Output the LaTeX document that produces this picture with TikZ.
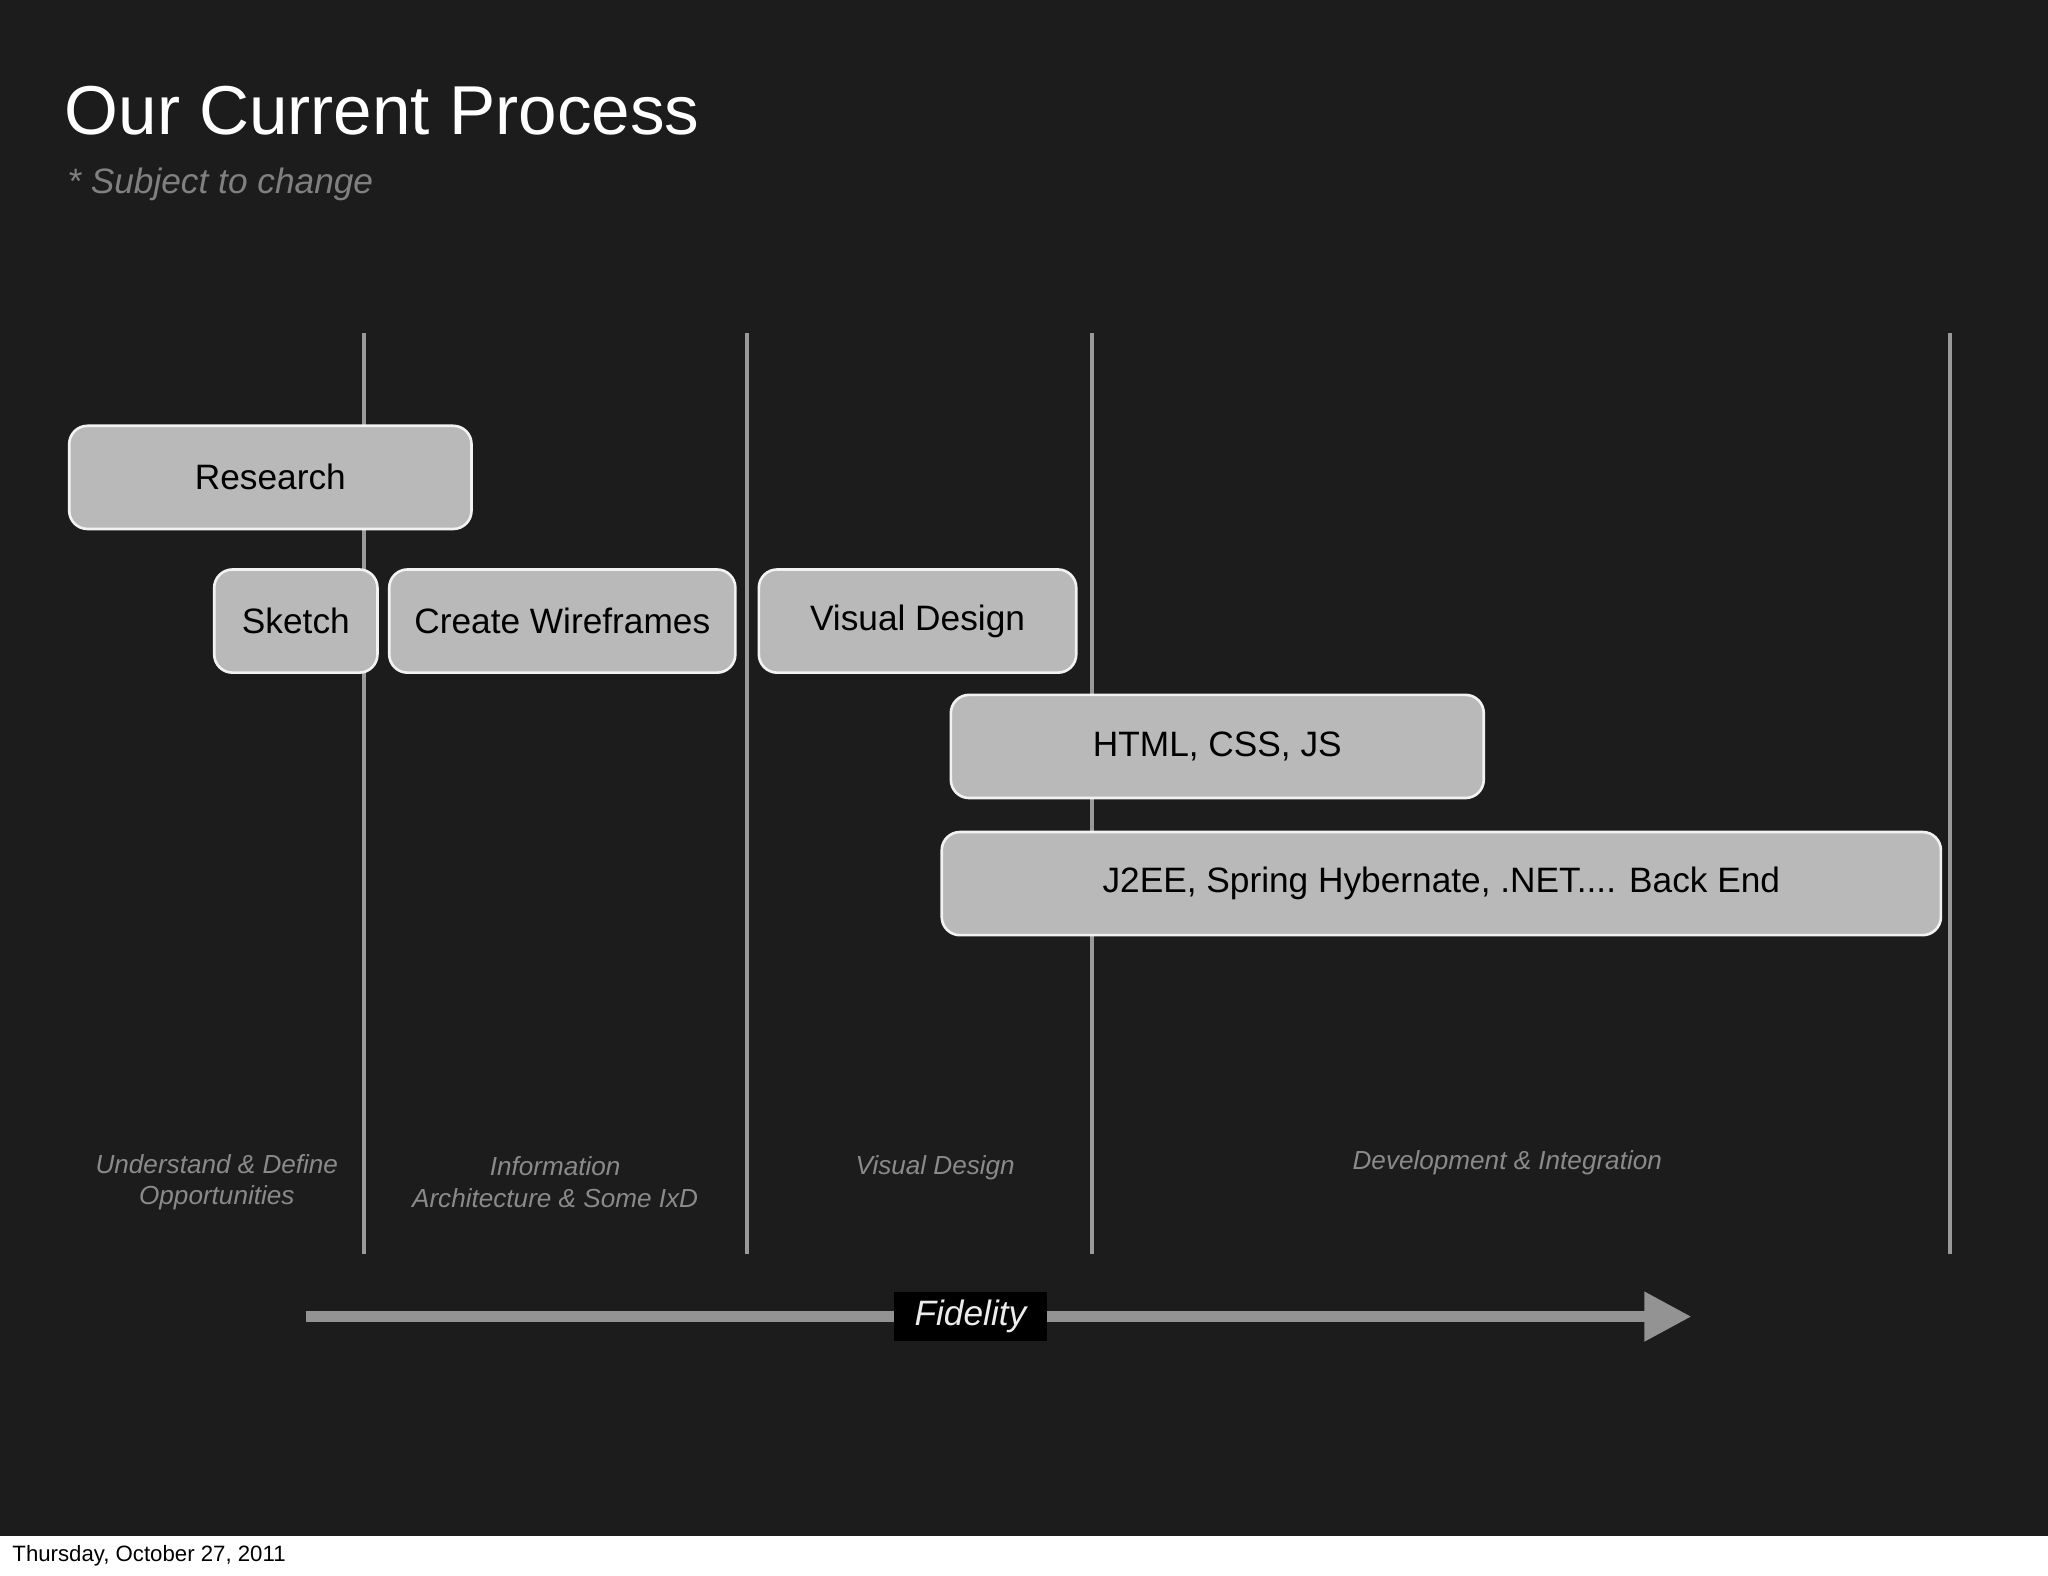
\documentclass[tikz,border=0pt]{standalone}
\usepackage{fontspec}
\setmainfont{Liberation Sans}
\usetikzlibrary{arrows.meta}
\definecolor{bg}{HTML}{1C1C1C}
\definecolor{boxc}{HTML}{B9B9B9}
\definecolor{lab}{HTML}{8A8A8A}
\tikzset{
 task/.style={draw=white!90!gray,line width=2pt,fill=boxc,rounded corners=14pt,anchor=north west,inner sep=0pt,font=\fontsize{27}{30}\selectfont,text=black},
 phase/.style={text=lab,font=\itshape\fontsize{20}{24}\selectfont,align=center},
 divider/.style={draw=gray!80,line width=3pt}
}
\begin{document}
\begin{tikzpicture}[x=1pt,y=-1pt]
\useasboundingbox (0,0) rectangle (1568,1206);
\fill[white] (0,0) rectangle (1568,1206);
\fill[bg] (0,0) rectangle (1568,1176);
\node[anchor=west,text=white,font=\fontsize{53}{60}\selectfont] (title) at (46,85) {Our Current Process};
\node[anchor=west,text=gray,font=\itshape\fontsize{27}{30}\selectfont] (sub) at (48,141) {* Subject to change};
\foreach \x/\n in {279/d1,572/d2,836/d3,1493/d4}{
 \coordinate (\n t) at (\x,255); \coordinate (\n b) at (\x,960);
 \draw[divider] (\n t) -- (\n b);}
\node[task,minimum width=308pt,minimum height=79pt] (research) at (52,325) {Research};
\node[task,minimum width=125pt,minimum height=79pt] (sketch) at (163,435) {Sketch};
\node[task,minimum width=265pt,minimum height=79pt] (wire) at (297,435) {Create Wireframes};
\node[task,minimum width=243pt,minimum height=79pt] (vd) at (580,435) {Visual Design};
\node[task,minimum width=408pt,minimum height=79pt] (html) at (727,531) {HTML, CSS, JS};
\node[task,minimum width=765pt,minimum height=79pt] (j2ee) at (720,636) {J2EE, Spring Hybernate, .NET.... Back End};
\node[phase] (p1) at (166,905) {Understand \& Define\\Opportunities};
\node[phase] (p2) at (425,905) {Information\\Architecture \& Some IxD};
\node[phase] (p3) at (716,894) {Visual Design};
\node[phase] (p4) at (1154,890) {Development \& Integration};
\coordinate (as) at (234,1008); \coordinate (ae) at (1295,1008);
\draw[gray!85,line width=8pt,-{Triangle[length=36pt,width=36pt]}] (as) -- (ae);
\node[fill=black,text=white!85!gray,font=\itshape\fontsize{27}{30}\selectfont,inner xsep=16pt,inner ysep=6pt] (fid) at (743,1008) {Fidelity};
\node[anchor=west,font=\fontsize{17}{20}\selectfont] (date) at (6,1191) {Thursday, October 27, 2011};
\end{tikzpicture}
\end{document}
